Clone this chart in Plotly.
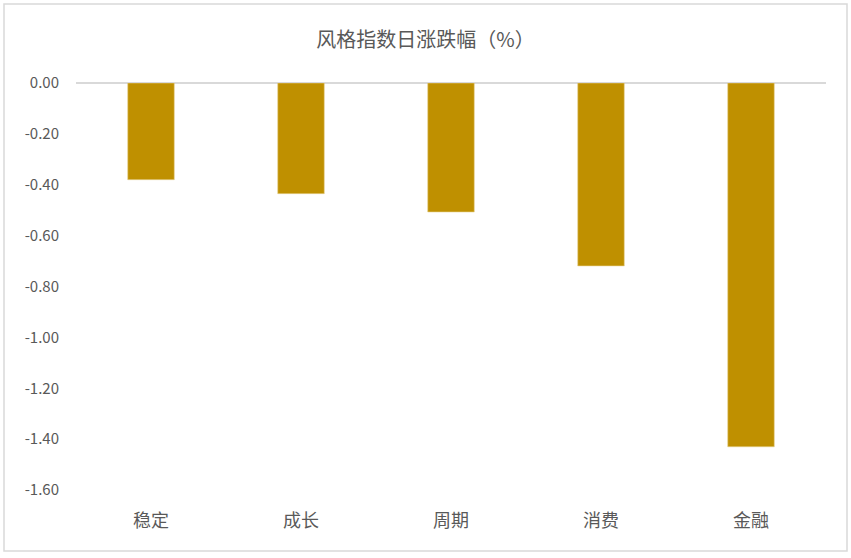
"""Style index daily change bar chart."""

import plotly.graph_objects as go

categories = ["稳定", "成长", "周期", "消费", "金融"]
daily_change = [-0.38, -0.435, -0.507, -0.719, -1.43]
y_ticks = [0.0, -0.2, -0.4, -0.6, -0.8, -1.0, -1.2, -1.4, -1.6]

W, H = 851, 558
L, R, T, B = 76, 25, 83, 68
FONT = "Noto Sans CJK SC"
GREY = "#595959"

fig = go.Figure(
    go.Bar(
        x=categories,
        y=daily_change,
        marker=dict(color="#BF9000", line=dict(color="#E6CF8A", width=0.6)),
        width=0.31,
    )
)

fig.update_layout(
    width=W,
    height=H,
    margin=dict(l=L, r=R, t=T, b=B),
    paper_bgcolor="white",
    plot_bgcolor="white",
    showlegend=False,
    font=dict(family=FONT, color=GREY, size=15),
    title=dict(
        text="风格指数日涨跌幅（%）",
        x=0.5,
        xanchor="center",
        y=1 - 40 / H,
        yanchor="middle",
        font=dict(size=20, color=GREY, family=FONT),
    ),
)

fig.update_xaxes(
    showgrid=False,
    showline=False,
    ticks="",
    tickfont=dict(size=18, color=GREY),
    ticklabelstandoff=18,
)
fig.update_yaxes(
    range=[-1.6, 0],
    tickvals=y_ticks,
    ticktext=[f"{v:.2f}" for v in y_ticks],
    showgrid=False,
    zeroline=True,
    zerolinecolor="#D9D9D9",
    zerolinewidth=1.5,
    showline=False,
    ticks="",
    tickfont=dict(size=15, color=GREY),
    ticklabelstandoff=16,
)

# outer chart border
pw, ph = W - L - R, H - T - B
fig.add_shape(
    type="rect",
    xref="paper",
    yref="paper",
    x0=(4 - L) / pw,
    x1=(847 - L) / pw,
    y0=-(551 - (H - B)) / ph,
    y1=1 + (T - 4) / ph,
    line=dict(color="#D9D9D9", width=1.5),
    layer="below",
)

fig.write_html(
    "out.html",
    config={"displayModeBar": False},
    post_script="document.body.style.margin='0';",
)
